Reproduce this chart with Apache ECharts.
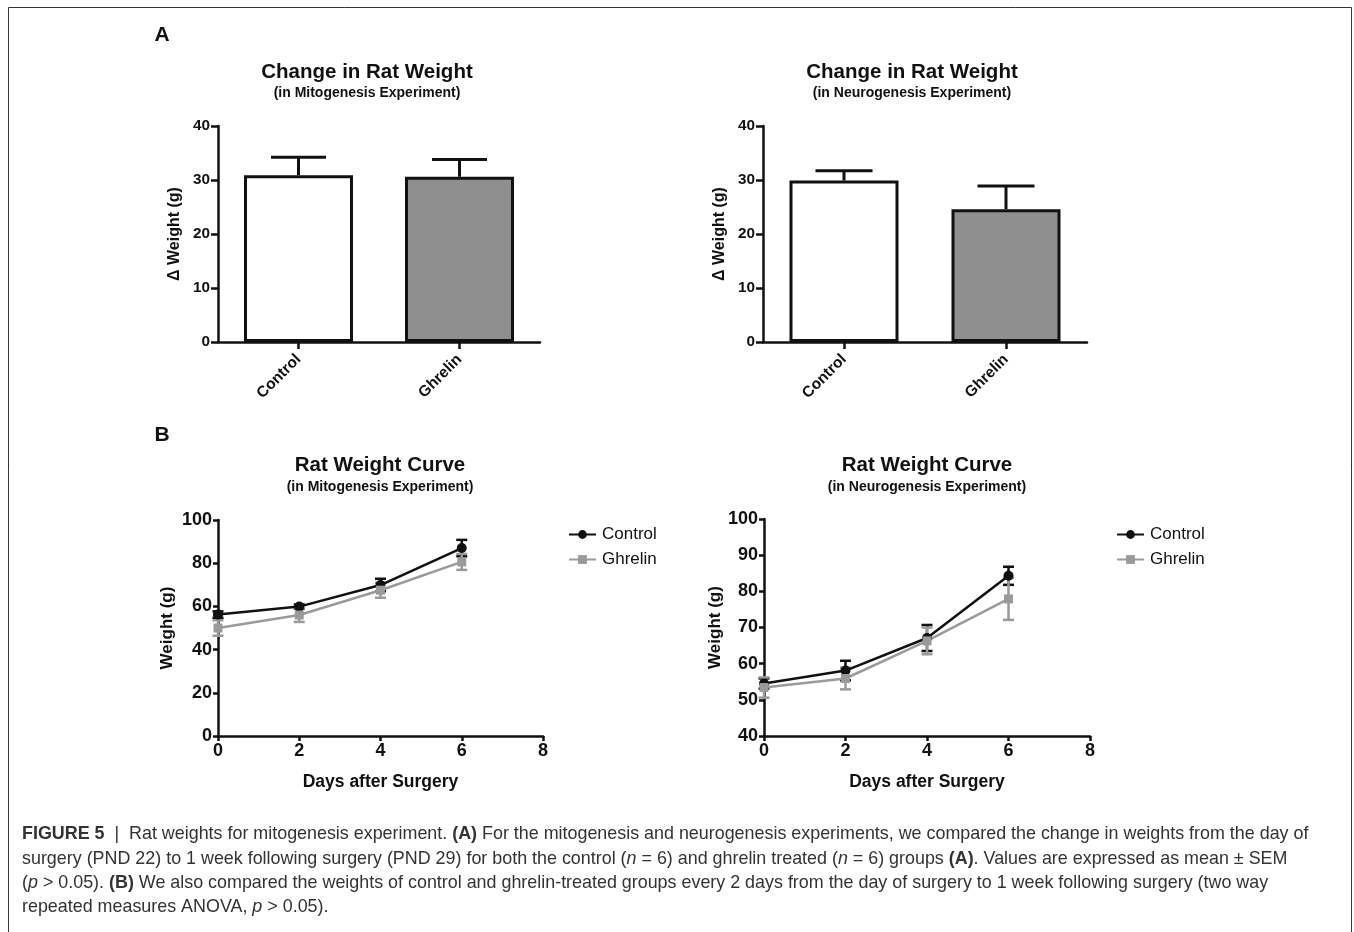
<!DOCTYPE html>
<html><head><meta charset="utf-8">
<script src="https://cdn.jsdelivr.net/npm/echarts@6/dist/echarts.min.js"></script>
<style>html,body{margin:0;padding:0;background:#fff}#c{width:1354px;height:932px}</style>
</head><body><div id="c"></div>
<script>
// ---- data ----
const barCategories = ['Control', 'Ghrelin'];
const mitoChangeMean = [30.9, 30.6];
const mitoChangeSem = [3.3, 3.2];
const neuroChangeMean = [29.9, 24.6];
const neuroChangeSem = [1.8, 4.3];

const days = [0, 2, 4, 6];
const mitoControlMean = [56.2, 59.9, 69.9, 87.0];
const mitoControlSem = [1.5, 1.0, 2.9, 3.8];
const mitoGhrelinMean = [50.0, 56.0, 67.5, 80.6];
const mitoGhrelinSem = [3.6, 3.2, 3.5, 3.7];
const neuroControlMean = [54.5, 58.1, 67.1, 84.3];
const neuroControlSem = [1.4, 2.7, 3.6, 2.5];
const neuroGhrelinMean = [53.4, 55.9, 66.3, 77.9];
const neuroGhrelinSem = [2.8, 3.0, 3.7, 5.8];

const barYTicks = {min: 0, max: 40, interval: 10};
const mitoYTicks = {min: 0, max: 100, interval: 20};
const neuroYTicks = {min: 40, max: 100, interval: 10};
const dayTicks = {min: 0, max: 8, interval: 2};

// ---- style ----
const FF = '"Liberation Sans", Arial, Helvetica, sans-serif';
const INK = '#111';
const GRAY = '#9a9a9a';
const BARGRAY = '#8f8f8f';

const chart = echarts.init(document.getElementById('c'), null, {renderer: 'canvas'});

function errRender(capHalf, upperOnly, color, lw) {
  return function (params, api) {
    const x = api.value(0), m = api.value(1), e = api.value(2);
    const top = api.coord([x, m + e]);
    const bot = api.coord([x, upperOnly ? m : m - e]);
    const st = {stroke: color, lineWidth: lw};
    const ch = [
      {type: 'line', shape: {x1: top[0], y1: top[1], x2: bot[0], y2: bot[1]}, style: st},
      {type: 'line', shape: {x1: top[0] - capHalf, y1: top[1], x2: top[0] + capHalf, y2: top[1]}, style: st}
    ];
    if (!upperOnly) ch.push({type: 'line', shape: {x1: bot[0] - capHalf, y1: bot[1], x2: bot[0] + capHalf, y2: bot[1]}, style: st});
    return {type: 'group', children: ch};
  };
}

function axisCommon(fs, tickLen, margin) {
  return {
    axisLine: {show: true, onZero: false, lineStyle: {color: INK, width: 2.5}},
    axisTick: {show: true, length: tickLen, lineStyle: {color: INK, width: 2.5}},
    axisLabel: {color: INK, fontSize: fs, fontWeight: 'bold', fontFamily: FF, margin: margin},
    splitLine: {show: false}
  };
}

const grids = [
  {left: 218, top: 126, width: 322, height: 216},
  {left: 763, top: 126, width: 324, height: 216},
  {left: 218, top: 520, width: 325, height: 216},
  {left: 764, top: 519, width: 326, height: 217}
];

const xAxes = [0, 1].map(i => Object.assign(axisCommon(15, 7, 9), {
  type: 'category', gridIndex: i, data: barCategories,
  axisTick: {show: true, alignWithLabel: true, length: 7, lineStyle: {color: INK, width: 2.5}},
  axisLabel: {color: INK, fontSize: 15.5, fontWeight: 'bold', fontFamily: FF, rotate: 45, margin: 15}
})).concat([2, 3].map(i => Object.assign(axisCommon(18, 5, 6), {
  type: 'value', gridIndex: i, min: dayTicks.min, max: dayTicks.max, interval: dayTicks.interval,
  name: 'Days after Surgery', nameLocation: 'middle', nameGap: 37,
  nameTextStyle: {color: INK, fontSize: 17.5, fontWeight: 'bold', fontFamily: FF}
})));

const yAxes = [0, 1].map(i => Object.assign(axisCommon(15.3, 7, 8), {
  type: 'value', gridIndex: i, min: barYTicks.min, max: barYTicks.max, interval: barYTicks.interval,
  name: 'Δ Weight (g)', nameLocation: 'middle', nameGap: 35,
  nameTextStyle: {color: INK, fontSize: 16, fontWeight: 'bold', fontFamily: FF}
})).concat([
  Object.assign(axisCommon(18, 5, 6), {
    type: 'value', gridIndex: 2, min: mitoYTicks.min, max: mitoYTicks.max, interval: mitoYTicks.interval,
    name: 'Weight (g)', nameLocation: 'middle', nameGap: 42,
    nameTextStyle: {color: INK, fontSize: 17, fontWeight: 'bold', fontFamily: FF}
  }),
  Object.assign(axisCommon(18, 5, 6), {
    type: 'value', gridIndex: 3, min: neuroYTicks.min, max: neuroYTicks.max, interval: neuroYTicks.interval,
    name: 'Weight (g)', nameLocation: 'middle', nameGap: 40,
    nameTextStyle: {color: INK, fontSize: 17, fontWeight: 'bold', fontFamily: FF}
  })
]);

function barSeries(idx, means) {
  return {
    type: 'bar', name: 'bar' + idx, xAxisIndex: idx, yAxisIndex: idx, barWidth: 109,
    data: means.map((v, i) => ({value: v, itemStyle: {color: i === 0 ? '#ffffff' : BARGRAY}})),
    itemStyle: {borderColor: INK, borderWidth: 3}, z: 3, silent: true
  };
}
function barErr(idx, means, sems, cap) {
  return {
    type: 'custom', name: 'barErr' + idx, xAxisIndex: idx, yAxisIndex: idx, z: 2, silent: true,
    renderItem: errRender(cap, true, INK, 3),
    data: means.map((v, i) => [i, v, sems[i]])
  };
}
function lineSeries(idx, name, means, color, symbol, size) {
  return {
    type: 'line', name: name, xAxisIndex: idx, yAxisIndex: idx, symbol: symbol, symbolSize: size,
    data: days.map((d, i) => [d, means[i]]),
    itemStyle: {color: color}, lineStyle: {color: color, width: 2.5}, z: 4, silent: true
  };
}
function lineErr(idx, means, sems, color) {
  return {
    type: 'custom', name: 'err', xAxisIndex: idx, yAxisIndex: idx, z: 3, silent: true,
    renderItem: errRender(5.5, false, color, 2.5),
    data: days.map((d, i) => [d, means[i], sems[i]])
  };
}

function txt(x, y, text, size, weight, color, extra) {
  return {
    type: 'text', x: x, y: y, silent: true,
    style: Object.assign({
      text: text, fontSize: size, fontWeight: weight, fontFamily: FF, fill: color || INK,
      align: 'center', verticalAlign: 'middle', textAlign: 'center', textVerticalAlign: 'middle'
    }, extra || {})
  };
}

const CFS = 17.9;
const capRich = {
  n: {fontSize: CFS, fontFamily: FF, color: '#333'},
  b: {fontSize: CFS, fontFamily: FF, color: '#111', fontWeight: 'bold'},
  i: {fontSize: CFS, fontFamily: FF, color: '#333', fontStyle: 'italic'}
};
function capLine(y, t) {
  return {
    type: 'text', x: 22, y: y, silent: true,
    style: {text: t, rich: capRich, fontSize: CFS, fontFamily: FF, fill: '#333',
      align: 'left', verticalAlign: 'middle', textAlign: 'left', textVerticalAlign: 'middle'}
  };
}

const legendCommon = {
  orient: 'vertical', itemWidth: 27, itemHeight: 11, itemGap: 8,
  data: ['Control', 'Ghrelin'],
  textStyle: {color: INK, fontSize: 17, fontFamily: FF, lineHeight: 17, padding: [0, 0, 0, 1]},
  selectedMode: false
};

chart.setOption({
  backgroundColor: '#fff',
  animation: false,
  grid: grids,
  xAxis: xAxes,
  yAxis: yAxes,
  legend: [
    Object.assign({left: 563, top: 521}, legendCommon),
    Object.assign({left: 1111, top: 521}, legendCommon)
  ],
  series: [
    barErr(0, mitoChangeMean, mitoChangeSem, 27.5),
    barSeries(0, mitoChangeMean),
    barErr(1, neuroChangeMean, neuroChangeSem, 28.5),
    barSeries(1, neuroChangeMean),
    lineErr(2, mitoControlMean, mitoControlSem, INK),
    lineErr(2, mitoGhrelinMean, mitoGhrelinSem, GRAY),
    lineSeries(2, 'Control', mitoControlMean, INK, 'circle', 10),
    lineSeries(2, 'Ghrelin', mitoGhrelinMean, GRAY, 'rect', 9),
    lineErr(3, neuroControlMean, neuroControlSem, INK),
    lineErr(3, neuroGhrelinMean, neuroGhrelinSem, GRAY),
    lineSeries(3, 'Control', neuroControlMean, INK, 'circle', 10),
    lineSeries(3, 'Ghrelin', neuroGhrelinMean, GRAY, 'rect', 9)
  ],
  graphic: [
    {type: 'rect', silent: true, shape: {x: 8.5, y: 7.5, width: 1343, height: 940},
      style: {fill: 'none', stroke: '#333', lineWidth: 1}},
    txt(162, 35, 'A', 21, 'bold'),
    txt(162, 435, 'B', 21, 'bold'),
    txt(367, 72, 'Change in Rat Weight', 20.5, 'bold'),
    txt(367, 93, '(in Mitogenesis Experiment)', 14, 'bold'),
    txt(912, 72, 'Change in Rat Weight', 20.5, 'bold'),
    txt(912, 93, '(in Neurogenesis Experiment)', 14, 'bold'),
    txt(380, 465, 'Rat Weight Curve', 20.5, 'bold'),
    txt(380, 487, '(in Mitogenesis Experiment)', 14, 'bold'),
    txt(927, 465, 'Rat Weight Curve', 20.5, 'bold'),
    txt(927, 487, '(in Neurogenesis Experiment)', 14, 'bold'),
    capLine(834, '{b|FIGURE 5}{n|  |  Rat weights for mitogenesis experiment. }{b|(A)}{n| For the mitogenesis and neurogenesis experiments, we compared the change in weights from the day of}'),
    capLine(859, '{n|surgery (PND 22) to 1 week following surgery (PND 29) for both the control (}{i|n}{n| = 6) and ghrelin treated (}{i|n}{n| = 6) groups }{b|(A)}{n|. Values are expressed as mean ± SEM}'),
    capLine(883, '{n|(}{i|p}{n| > 0.05). }{b|(B)}{n| We also compared the weights of control and ghrelin-treated groups every 2 days from the day of surgery to 1 week following surgery (two way}'),
    capLine(907, '{n|repeated measures ANOVA, }{i|p}{n| > 0.05).}')
  ]
});
</script>
</body></html>
